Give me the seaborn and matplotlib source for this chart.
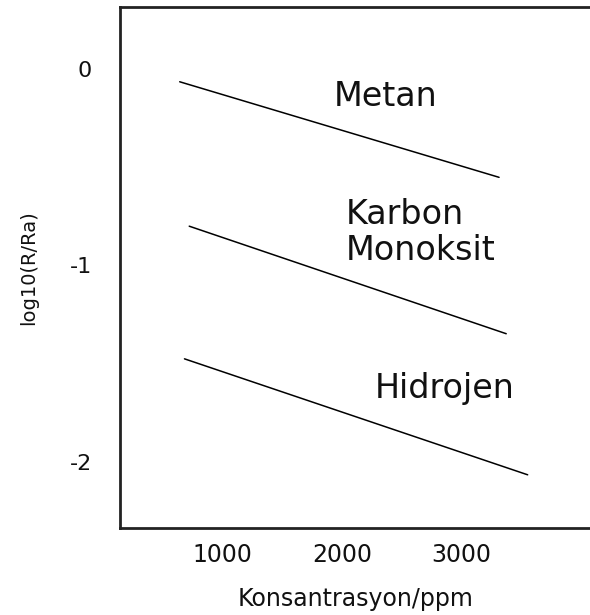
import matplotlib
matplotlib.use("Agg")
import matplotlib.pyplot as plt
import seaborn as sns
import pandas as pd

# Sensor response lines (endpoints of each straight line)
gases = ["Metan", "Karbon\nMonoksit", "Hidrojen"]
conc_start = [640, 720, 680]
conc_end = [3320, 3380, 3560]
logr_start = [-0.064, -0.80, -1.476]
logr_end = [-0.551, -1.348, -2.067]

# Label anchors for each line
label_x = [1930, 2030, 2280]
label_y = [-0.137, -0.83, -1.625]

xticks = [1000, 2000, 3000]
yticks = [0, -1, -2]

rows = []
for g, x0, x1, y0, y1 in zip(gases, conc_start, conc_end, logr_start, logr_end):
    rows.append({"gas": g, "conc": x0, "logr": y0})
    rows.append({"gas": g, "conc": x1, "logr": y1})
df = pd.DataFrame(rows)

sns.set_theme(style="white")
plt.rcParams["font.family"] = ["DejaVu Sans"]

fig = plt.figure(figsize=(5.9, 6.15), dpi=100)
ax = fig.add_axes([0.2034, 0.1415, 0.80, 0.8471])

sns.lineplot(data=df, x="conc", y="logr", hue="gas",
             palette=["black"] * len(gases), linewidth=1.1,
             legend=False, ax=ax)

for g, lx, ly in zip(gases, label_x, label_y):
    ax.text(lx, ly, g, fontsize=24, ha="left", va="center",
            color="#111111", linespacing=1.12)

ax.set_xlim(139, 4100)
ax.set_ylim(-2.338, 0.317)
ax.set_xticks(xticks)
ax.set_xticklabels([str(v) for v in xticks])
ax.set_yticks(yticks)
ax.set_yticklabels([str(v) for v in yticks])
ax.tick_params(axis="x", length=0, pad=11, labelsize=17, colors="#111111")
ax.tick_params(axis="y", length=0, pad=20, labelsize=16, colors="#111111")

ax.set_xlabel("Konsantrasyon/ppm", fontsize=17, labelpad=14, color="#111111")
ax.set_ylabel("log10(R/Ra)", fontsize=14, labelpad=23, color="#111111")

for side in ["left", "top", "bottom"]:
    ax.spines[side].set_color("#222222")
    ax.spines[side].set_linewidth(2.0)
ax.spines["right"].set_visible(False)

fig.savefig("out.png", dpi=100)
